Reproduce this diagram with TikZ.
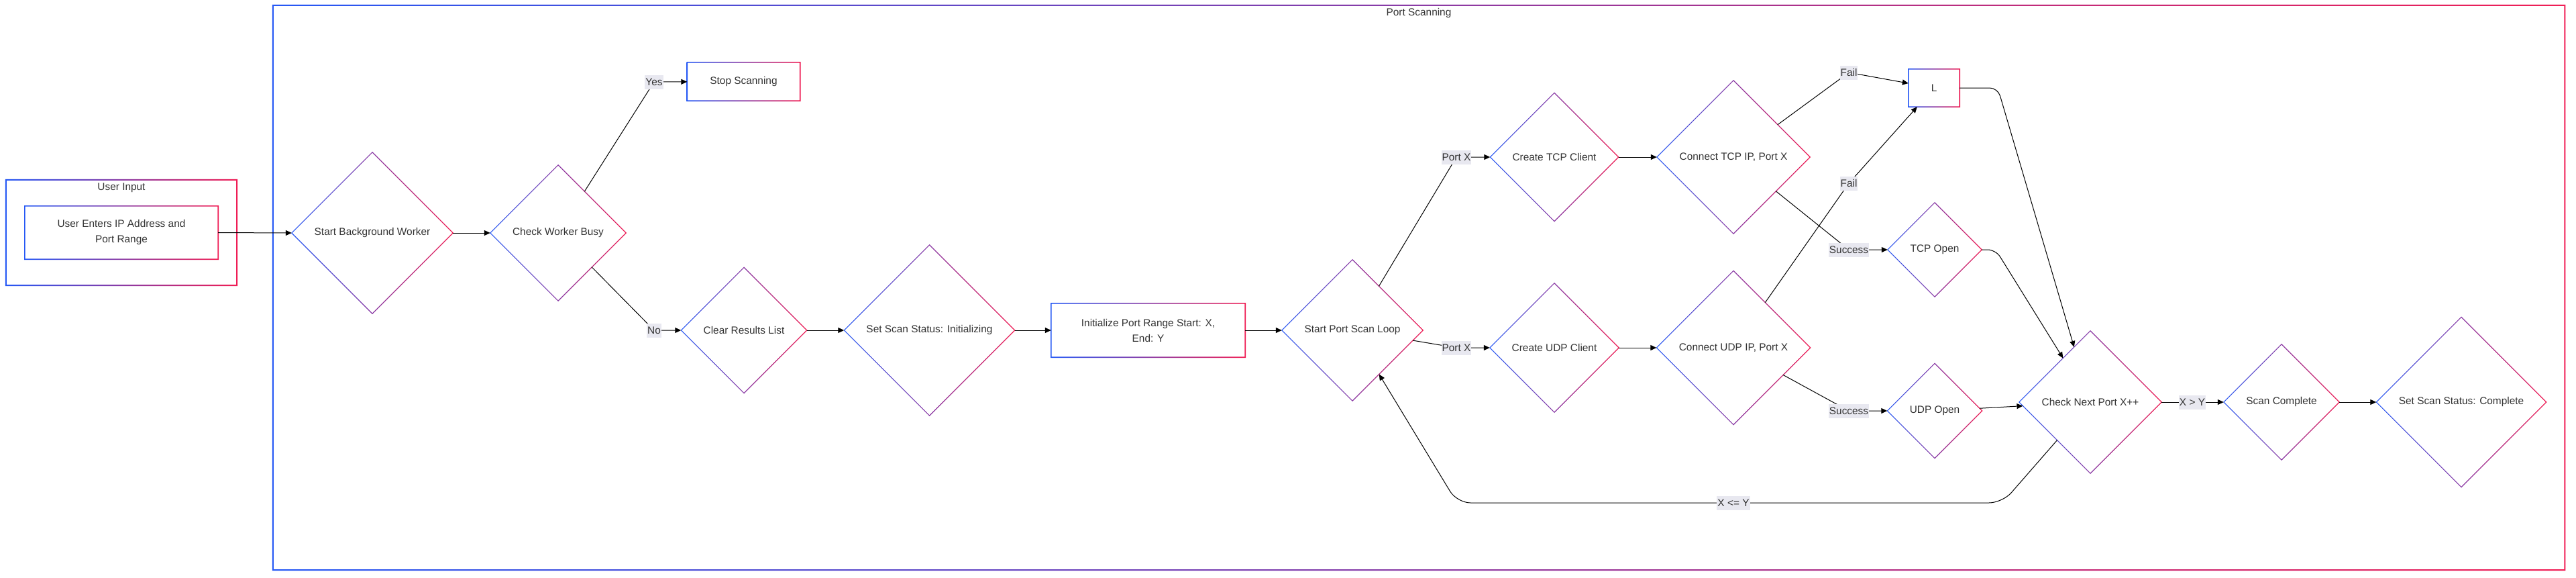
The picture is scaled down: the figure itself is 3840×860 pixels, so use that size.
\documentclass[tikz,border=0pt]{standalone}
\usepackage{fontspec}
\setmainfont{Liberation Sans}
\usetikzlibrary{shapes.geometric,arrows.meta,calc}
\definecolor{gblue}{RGB}{37,88,245}
\definecolor{gred}{RGB}{240,30,85}
\definecolor{txt}{RGB}{51,51,51}
\definecolor{lblbg}{RGB}{232,232,240}
\tikzset{
  every node/.style={font=\fontsize{15.4}{23}\selectfont, text=txt},
  dia/.style={shape=diamond, aspect=1, inner sep=0pt, fill=white, align=center},
  box/.style={shape=rectangle, inner sep=0pt, fill=white, align=center},
  gring/.style={left color=gblue, right color=gred, even odd rule, draw=none},
  edge/.style={draw=black, line width=1pt, -{Triangle[length=9pt,width=8pt]}},
  elabel/.style={fill=lblbg, inner xsep=1pt, inner ysep=0pt, minimum height=21pt},
}
\newcommand{\dring}[2]{%
  \path[gring] ([xshift=-#2]#1.west) -- ([yshift=#2]#1.north) -- ([xshift=#2]#1.east) -- ([yshift=-#2]#1.south) -- cycle
    ([xshift=#2]#1.west) -- ([yshift=-#2]#1.north) -- ([xshift=-#2]#1.east) -- ([yshift=#2]#1.south) -- cycle;}
\newcommand{\rring}[2]{%
  \path[gring] ([xshift=-#2,yshift=#2]#1.north west) rectangle ([xshift=#2,yshift=-#2]#1.south east)
    ([xshift=#2,yshift=-#2]#1.north west) rectangle ([xshift=-#2,yshift=#2]#1.south east);}
\begin{document}
\begin{tikzpicture}[x=1pt,y=-1pt]
\useasboundingbox[fill=white] (0,0) rectangle (3840,860);
% clusters
\node[box, minimum width=344pt, minimum height=157pt] (uic) at (181,346.5) {};
\node[box, minimum width=3416pt, minimum height=841pt] (psc) at (2115,428.5) {};
\rring{uic}{1pt}
\rring{psc}{1pt}
\node (tui) at (181,280) {User Input};
\node (tps) at (2115,20) {Port Scanning};
% nodes
\node[box, minimum width=288pt, minimum height=79pt] (ueb) at (181,346.5) {User Enters IP Address and\\Port Range};
\node[dia, minimum size=240pt] (sbw) at (555,347) {Start Background Worker};
\node[dia, minimum size=202pt] (cwb) at (832,347) {Check Worker Busy};
\node[box, minimum width=168pt, minimum height=57pt] (stop) at (1108.5,121.5) {Stop Scanning};
\node[dia, minimum size=187pt] (crl) at (1109,492) {Clear Results List};
\node[dia, minimum size=254pt] (ssi) at (1385.5,492) {Set Scan Status: Initializing};
\node[box, minimum width=289pt, minimum height=80pt] (init) at (1711.5,492) {Initialize Port Range Start: X,\\End: Y};
\node[dia, minimum size=210pt] (spsl) at (2016,492) {Start Port Scan Loop};
\node[dia, minimum size=191pt] (ctc) at (2317,234) {Create TCP Client};
\node[dia, minimum size=228pt] (ctcp) at (2584,234) {Connect TCP IP, Port X};
\node[dia, minimum size=192pt] (cuc) at (2317,518) {Create UDP Client};
\node[dia, minimum size=229pt] (cucp) at (2584,518) {Connect UDP IP, Port X};
\node[box, minimum width=76pt, minimum height=56pt] (lbox) at (2883,131) {L};
\node[dia, minimum size=140pt] (tcpo) at (2884,372) {TCP Open};
\node[dia, minimum size=141pt] (udpo) at (2884,612) {UDP Open};
\node[dia, minimum size=212pt] (cnp) at (3116,599) {Check Next Port X++};
\node[dia, minimum size=172pt] (sc) at (3401,599) {Scan Complete};
\node[dia, minimum size=253pt] (ssc) at (3669,599) {Set Scan Status: Complete};
% gradient borders
\rring{ueb}{0.8pt}
\rring{stop}{0.8pt}
\rring{init}{0.8pt}
\rring{lbox}{0.8pt}
\foreach \n in {sbw,cwb,crl,ssi,spsl,ctc,ctcp,cuc,cucp,tcpo,udpo,cnp,sc,ssc}{\dring{\n}{0.8pt}}
% label points
\coordinate (pyes) at (975,122);
\coordinate (pno) at (975,492);
\coordinate (ppx1) at (2171,234);
\coordinate (ppx2) at (2171,518);
\coordinate (pf1) at (2756,108);
\coordinate (pf2) at (2756,273);
\coordinate (ps1) at (2756,372);
\coordinate (ps2) at (2756,612);
\coordinate (pxle) at (2584,749);
\coordinate (pxgt) at (3268,599);
\coordinate (cL) at (2978,131);
\coordinate (cT) at (2975,372);
\coordinate (cb1) at (2985,749);
\coordinate (cb2) at (2172,749);
% edges
\draw[edge] (ueb.east) -- (sbw.west);
\draw[edge] (sbw) -- (cwb);
\draw[edge] (cwb) -- (pyes) -- (stop);
\draw[edge] (cwb) -- (pno) -- (crl);
\draw[edge] (crl) -- (ssi);
\draw[edge] (ssi) -- (init);
\draw[edge] (init) -- (spsl);
\draw[edge] (spsl) -- (ppx1) -- (ctc);
\draw[edge] (spsl) -- (ppx2) -- (cuc);
\draw[edge] (ctc) -- (ctcp);
\draw[edge] (cuc) -- (cucp);
\draw[edge] (ctcp) -- (pf1) -- (lbox);
\draw[edge] (cucp) -- (pf2) -- (lbox);
\draw[edge] (ctcp) -- (ps1) -- (tcpo);
\draw[edge] (cucp) -- (ps2) -- (udpo);
\draw[edge, rounded corners=12pt] (lbox) -- (cL) -- (cnp);
\draw[edge, rounded corners=12pt] (tcpo) -- (cT) -- (cnp);
\draw[edge] (udpo) -- (cnp);
\draw[edge, rounded corners=20pt] (cnp) -- (cb1) -- (cb2) -- (spsl);
\draw[edge] (cnp) -- (pxgt) -- (sc);
\draw[edge] (sc) -- (ssc);
% edge labels
\node[elabel] (lyes) at (pyes) {Yes};
\node[elabel] (lno) at (pno) {No};
\node[elabel] (lpx1) at (ppx1) {Port X};
\node[elabel] (lpx2) at (ppx2) {Port X};
\node[elabel] (lf1) at (pf1) {Fail};
\node[elabel] (lf2) at (pf2) {Fail};
\node[elabel] (ls1) at (ps1) {Success};
\node[elabel] (ls2) at (ps2) {Success};
\node[elabel] (lxle) at (pxle) {X <= Y};
\node[elabel] (lxgt) at (pxgt) {X > Y};
\end{tikzpicture}
\end{document}
